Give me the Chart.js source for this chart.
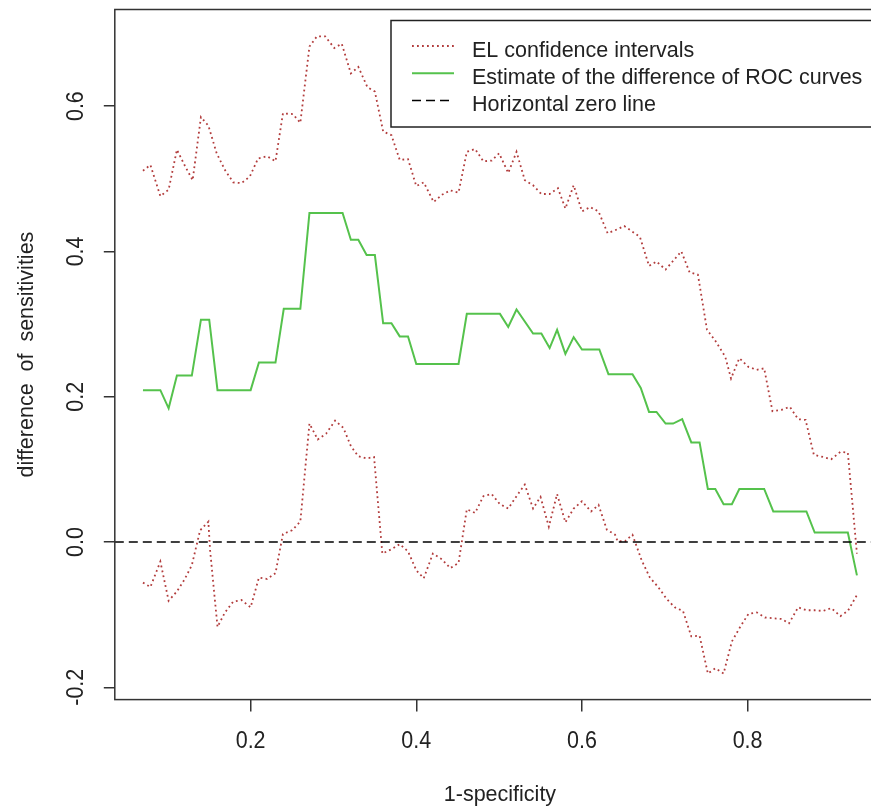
<!DOCTYPE html>
<html>
<head>
<meta charset="utf-8">
<title>Difference of ROC curves</title>
<script src="https://cdn.jsdelivr.net/npm/chart.js@4.4.0/dist/chart.umd.min.js"></script>
<style>
  html, body { margin: 0; padding: 0; background: #fff; overflow: hidden; }
  canvas { display: block; }
</style>
</head>
<body>
<canvas id="rocChart" width="890" height="808"></canvas>
<script>
// Estimate of the difference of ROC curves
const estX = [0.070, 0.091, 0.101, 0.111, 0.129, 0.140, 0.150, 0.160, 0.200, 0.210,
              0.230, 0.240, 0.260, 0.271, 0.311, 0.321, 0.330, 0.340, 0.350, 0.360,
              0.370, 0.380, 0.390, 0.400, 0.451, 0.461, 0.501, 0.511, 0.521, 0.541,
              0.551, 0.561, 0.570, 0.580, 0.590, 0.600, 0.621, 0.632, 0.661, 0.671,
              0.681, 0.690, 0.701, 0.710, 0.721, 0.732, 0.742, 0.752, 0.761, 0.771,
              0.781, 0.790, 0.820, 0.831, 0.871, 0.881, 0.921, 0.932];
const estY = [0.209, 0.209, 0.184, 0.229, 0.229, 0.306, 0.306, 0.209, 0.209, 0.247,
              0.247, 0.321, 0.321, 0.453, 0.453, 0.416, 0.416, 0.395, 0.395, 0.301,
              0.301, 0.283, 0.283, 0.245, 0.245, 0.314, 0.314, 0.296, 0.320, 0.287,
              0.287, 0.267, 0.292, 0.259, 0.282, 0.265, 0.265, 0.231, 0.231, 0.212,
              0.179, 0.179, 0.163, 0.163, 0.169, 0.137, 0.137, 0.073, 0.073, 0.052,
              0.052, 0.073, 0.073, 0.042, 0.042, 0.013, 0.013, -0.046];

// EL confidence interval, upper bound
const upperX = [0.070, 0.079, 0.091, 0.101, 0.111, 0.121, 0.130, 0.140, 0.149, 0.159,
                0.169, 0.179, 0.189, 0.199, 0.209, 0.220, 0.230, 0.239, 0.251, 0.260,
                0.271, 0.280, 0.290, 0.301, 0.310, 0.321, 0.330, 0.341, 0.350, 0.360,
                0.370, 0.380, 0.390, 0.400, 0.409, 0.421, 0.431, 0.441, 0.451, 0.461,
                0.471, 0.481, 0.491, 0.500, 0.511, 0.521, 0.531, 0.541, 0.551, 0.561,
                0.571, 0.580, 0.590, 0.600, 0.610, 0.620, 0.631, 0.640, 0.651, 0.670,
                0.681, 0.690, 0.701, 0.720, 0.730, 0.740, 0.751, 0.761, 0.773, 0.780,
                0.790, 0.801, 0.811, 0.820, 0.830, 0.841, 0.851, 0.861, 0.870, 0.880,
                0.891, 0.901, 0.912, 0.921, 0.932];
const upperY = [0.511, 0.519, 0.476, 0.485, 0.540, 0.517, 0.498, 0.585, 0.573, 0.535,
                0.512, 0.495, 0.494, 0.503, 0.528, 0.531, 0.524, 0.590, 0.589, 0.577,
                0.682, 0.696, 0.696, 0.680, 0.686, 0.645, 0.654, 0.626, 0.620, 0.565,
                0.560, 0.526, 0.527, 0.490, 0.495, 0.468, 0.478, 0.484, 0.481, 0.537,
                0.541, 0.524, 0.525, 0.535, 0.508, 0.537, 0.498, 0.491, 0.479, 0.479,
                0.487, 0.459, 0.491, 0.455, 0.461, 0.455, 0.425, 0.429, 0.435, 0.420,
                0.380, 0.386, 0.375, 0.400, 0.371, 0.368, 0.292, 0.277, 0.255, 0.225,
                0.253, 0.241, 0.237, 0.239, 0.180, 0.182, 0.186, 0.169, 0.168, 0.120,
                0.117, 0.114, 0.124, 0.123, -0.016];

// EL confidence interval, lower bound
const lowerX = [0.070, 0.079, 0.091, 0.101, 0.111, 0.120, 0.129, 0.139, 0.149, 0.151,
                0.160, 0.169, 0.179, 0.189, 0.200, 0.210, 0.220, 0.230, 0.239, 0.250,
                0.260, 0.271, 0.281, 0.291, 0.302, 0.312, 0.321, 0.330, 0.340, 0.349,
                0.359, 0.370, 0.380, 0.390, 0.400, 0.409, 0.420, 0.431, 0.441, 0.451,
                0.461, 0.471, 0.481, 0.491, 0.501, 0.511, 0.521, 0.531, 0.541, 0.550,
                0.560, 0.570, 0.580, 0.590, 0.600, 0.611, 0.620, 0.630, 0.640, 0.643,
                0.652, 0.661, 0.672, 0.682, 0.692, 0.702, 0.712, 0.722, 0.732, 0.742,
                0.752, 0.761, 0.771, 0.781, 0.791, 0.801, 0.811, 0.821, 0.831, 0.841,
                0.850, 0.861, 0.871, 0.881, 0.891, 0.901, 0.912, 0.921, 0.932];
const lowerY = [-0.056, -0.062, -0.027, -0.081, -0.068, -0.052, -0.032, 0.016, 0.028, -0.011,
                -0.117, -0.097, -0.082, -0.080, -0.090, -0.049, -0.051, -0.043, 0.011, 0.016,
                0.028, 0.163, 0.141, 0.149, 0.167, 0.157, 0.132, 0.118, 0.115, 0.117,
                -0.016, -0.010, -0.003, -0.013, -0.039, -0.050, -0.016, -0.024, -0.036, -0.029,
                0.045, 0.040, 0.063, 0.066, 0.052, 0.046, 0.063, 0.079, 0.046, 0.062,
                0.021, 0.066, 0.027, 0.046, 0.056, 0.042, 0.051, 0.017, 0.010, 0.001,
                0.001, 0.010, -0.025, -0.049, -0.062, -0.078, -0.090, -0.095, -0.130, -0.129,
                -0.181, -0.174, -0.181, -0.137, -0.117, -0.099, -0.097, -0.104, -0.105, -0.106,
                -0.112, -0.090, -0.094, -0.094, -0.095, -0.091, -0.102, -0.095, -0.073];

const xTicks = [0.2, 0.4, 0.6, 0.8];
const yTicks = [-0.2, 0.0, 0.2, 0.4, 0.6];
const xLimits = [0.036, 0.966];
const yLimits = [-0.217, 0.733];

const legendLabels = ['EL confidence intervals', 'Estimate of the difference of ROC curves', 'Horizontal zero line'];
const xTitle = '1-specificity';
const yTitle = 'difference  of  sensitivities';

const elColor = '#B23C3C';
const estColor = '#55C24C';
const elDash = [1.8, 3.2];
const zeroDash = [9, 5];
const FONT = '21.5px "Liberation Sans", Arial, sans-serif';

function toPoints(xs, ys) {
    return xs.map((x, i) => ({ x: x, y: ys[i] }));
}

// tick labels in the original are a little taller than plain Arial
function tallText(ctx, text, x, y, rotate) {
    ctx.save();
    ctx.translate(x, y);
    if (rotate) ctx.rotate(-Math.PI / 2);
    ctx.scale(1, 1.1);
    ctx.fillText(text, 0, 0);
    ctx.restore();
}

// Draws the R-style box, tick labels, axis titles and legend
const rPlotDecor = {
    id: 'rPlotDecor',
    afterDraw(chart) {
        const { ctx, chartArea: a, scales } = chart;
        ctx.save();

        ctx.strokeStyle = '#333';
        ctx.lineWidth = 1.5;
        ctx.setLineDash([]);
        ctx.strokeRect(a.left, a.top, a.right - a.left, a.bottom - a.top);

        ctx.fillStyle = '#222';
        ctx.font = FONT;
        ctx.textAlign = 'center';
        ctx.textBaseline = 'alphabetic';

        xTicks.forEach(v => tallText(ctx, v.toFixed(1), scales.x.getPixelForValue(v), 748, false));
        yTicks.forEach(v => tallText(ctx, v.toFixed(1), 83, scales.y.getPixelForValue(v), true));

        ctx.fillText(xTitle, (a.left + a.right) / 2, 801);
        ctx.save();
        ctx.translate(33, (a.top + a.bottom) / 2);
        ctx.rotate(-Math.PI / 2);
        ctx.fillText(yTitle, 0, 0);
        ctx.restore();

        // legend
        const lx = 391, ly = 20.5, lw = 489, lh = 106.5;
        ctx.fillStyle = '#fff';
        ctx.fillRect(lx, ly, lw, lh);
        ctx.strokeStyle = '#222';
        ctx.lineWidth = 1.5;
        ctx.strokeRect(lx, ly, lw, lh);

        const styles = [
            { color: elColor, dash: elDash, width: 1.8 },
            { color: estColor, dash: [], width: 2 },
            { color: '#000', dash: zeroDash, width: 1.5 }
        ];
        ctx.textAlign = 'left';
        legendLabels.forEach((label, i) => {
            const base = 56.5 + i * 27.3;
            const s = styles[i];
            ctx.strokeStyle = s.color;
            ctx.lineWidth = s.width;
            ctx.setLineDash(s.dash);
            ctx.beginPath();
            ctx.moveTo(412, base - 10.5);
            ctx.lineTo(454, base - 10.5);
            ctx.stroke();
            ctx.fillStyle = '#222';
            ctx.fillText(label, 472, base);
        });
        ctx.restore();
    }
};

const ctx = document.getElementById('rocChart').getContext('2d');

const rocChart = new Chart(ctx, {
    type: 'line',
    data: {
        datasets: [
            { label: legendLabels[2], data: [{ x: xLimits[0], y: 0 }, { x: xLimits[1], y: 0 }],
              borderColor: '#000', borderWidth: 1.5, borderDash: zeroDash, pointRadius: 0, order: 0 },
            { label: legendLabels[1], data: toPoints(estX, estY),
              borderColor: estColor, borderWidth: 2, pointRadius: 0, tension: 0, order: 1 },
            { label: legendLabels[0] + ' (upper)', data: toPoints(upperX, upperY),
              borderColor: elColor, borderWidth: 1.8, borderDash: elDash, pointRadius: 0, tension: 0, order: 2 },
            { label: legendLabels[0] + ' (lower)', data: toPoints(lowerX, lowerY),
              borderColor: elColor, borderWidth: 1.8, borderDash: elDash, pointRadius: 0, tension: 0, order: 3 }
        ]
    },
    options: {
        responsive: false,
        animation: false,
        layout: { padding: { top: 9.5, right: 4.9, left: 0, bottom: 0 } },
        plugins: { legend: { display: false }, tooltip: { enabled: false } },
        scales: {
            x: {
                type: 'linear',
                min: xLimits[0],
                max: xLimits[1],
                afterBuildTicks: s => { s.ticks = xTicks.map(v => ({ value: v })); },
                afterFit: s => { s.height = 108.4; },
                ticks: { display: false },
                grid: { drawOnChartArea: false, drawTicks: true, tickLength: 12, color: '#333', lineWidth: 1.5 },
                border: { display: false }
            },
            y: {
                type: 'linear',
                min: yLimits[0],
                max: yLimits[1],
                afterBuildTicks: s => { s.ticks = yTicks.map(v => ({ value: v })); },
                afterFit: s => { s.width = 114.8; },
                ticks: { display: false },
                grid: { drawOnChartArea: false, drawTicks: true, tickLength: 11, color: '#333', lineWidth: 1.5 },
                border: { display: false }
            }
        }
    },
    plugins: [rPlotDecor]
});
</script>
</body>
</html>
